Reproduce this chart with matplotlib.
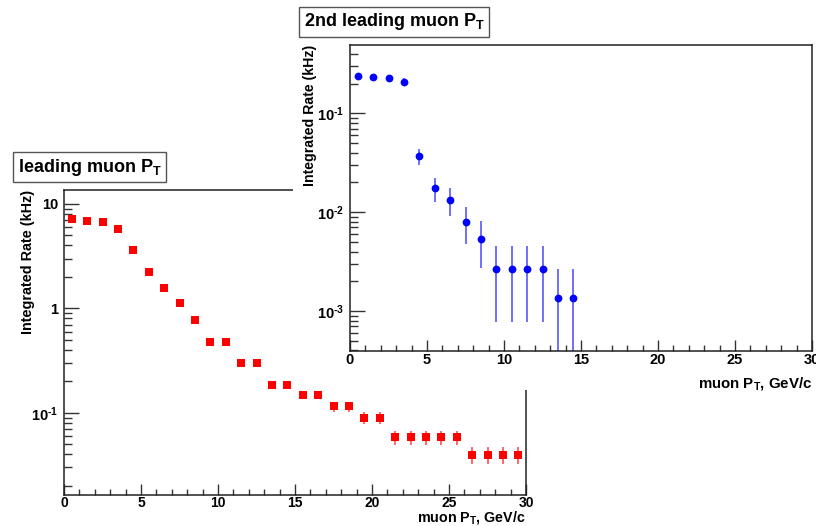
import matplotlib
matplotlib.use('Agg')
import matplotlib.pyplot as plt
from matplotlib.ticker import FixedLocator, MultipleLocator, FuncFormatter, NullFormatter

plt.rcParams['font.family'] = ['Liberation Sans', 'DejaVu Sans']
plt.rcParams['font.weight'] = 'bold'
plt.rcParams['mathtext.fontset'] = 'custom'
plt.rcParams['mathtext.rm'] = 'Liberation Sans:bold'
plt.rcParams['mathtext.default'] = 'rm'

# ****** leading muon pT (integrated rate, kHz) ******
lead_pt = [0.5, 1.5, 2.5, 3.5, 4.5, 5.5, 6.5, 7.5, 8.5, 9.5,
           10.5, 11.5, 12.5, 13.5, 14.5, 15.5, 16.5, 17.5, 18.5, 19.5,
           20.5, 21.5, 22.5, 23.5, 24.5, 25.5, 26.5, 27.5, 28.5, 29.5]
lead_rate = [7.18, 6.92, 6.67, 5.80, 3.65, 2.21, 1.55, 1.12, 0.78, 0.473,
             0.473, 0.302, 0.302, 0.183, 0.183, 0.149, 0.149, 0.115, 0.115, 0.0897,
             0.0897, 0.0581, 0.0581, 0.0581, 0.0581, 0.0581, 0.0393, 0.0393, 0.0393, 0.0393]
lead_err = [0.098, 0.0965, 0.0948, 0.0883, 0.070, 0.0545, 0.0457, 0.0388, 0.0324, 0.0252,
            0.0252, 0.0201, 0.0201, 0.0157, 0.0157, 0.0142, 0.0142, 0.0124, 0.0124, 0.011,
            0.011, 0.0089, 0.0089, 0.0089, 0.0089, 0.0089, 0.0073, 0.0073, 0.0073, 0.0073]

# ****** 2nd leading muon pT ******
sub_pt = [0.5, 1.5, 2.5, 3.5, 4.5, 5.5, 6.5, 7.5, 8.5, 9.5,
          10.5, 11.5, 12.5, 13.5, 14.5]
sub_rate = [0.240, 0.233, 0.228, 0.209, 0.0367, 0.01755, 0.01337, 0.00801, 0.00539, 0.00268,
            0.00268, 0.00268, 0.00268, 0.001346, 0.001346]
sub_err = [0.018, 0.0177, 0.0175, 0.0168, 0.0070, 0.00485, 0.00426, 0.0033, 0.00269, 0.0019,
           0.0019, 0.0019, 0.0019, 0.001346, 0.001346]

W, H = 816, 526


def box(x0, y0, x1, y1):
    # pixel box (top-left origin) -> figure fraction rect
    return [x0 / W, (H - y1) / H, (x1 - x0) / W, (y1 - y0) / H]


def style_axes(ax, labels):
    ax.set_yscale('log')
    ax.set_xlim(0, 30)
    ax.xaxis.set_major_locator(MultipleLocator(5))
    ax.xaxis.set_minor_locator(MultipleLocator(1))
    ax.yaxis.set_major_locator(FixedLocator(list(labels.keys())))
    ax.yaxis.set_minor_locator(FixedLocator(
        [m * 10.0 ** e for e in range(-5, 2) for m in range(2, 10)]))
    ax.yaxis.set_major_formatter(FuncFormatter(lambda v, p: labels.get(v, '')))
    ax.yaxis.set_minor_formatter(NullFormatter())
    ax.tick_params(which='both', direction='in', top=False, right=False,
                   labelsize=10.5, width=1, color='#333333')
    ax.tick_params(axis='y', which='major', length=11, pad=4)
    ax.tick_params(axis='y', which='minor', length=6)
    ax.tick_params(axis='x', which='major', length=8, pad=1.5)
    ax.tick_params(axis='x', which='minor', length=4)
    for lab in ax.get_xticklabels() + ax.get_yticklabels():
        lab.set_fontweight('bold')
    for sp in ax.spines.values():
        sp.set_linewidth(1.1)
        sp.set_color('#222222')


fig = plt.figure(figsize=(W / 100, H / 100), dpi=100)

# ****** main plot ******
ax1 = fig.add_axes(box(64, 190, 526, 495))
ax1.set_zorder(1)
ax1.errorbar(lead_pt, lead_rate, yerr=lead_err, fmt='none', ecolor='#ff4040',
             elinewidth=1.1, capsize=0)
ax1.plot(lead_pt, lead_rate, 's', color='#ff0000', ms=5.2, mew=0)
ax1.set_ylim(0.0163, 13.6)
style_axes(ax1, {0.1: r'$10^{\text{-}1}$', 1.0: '1', 10.0: '10'})
ax1.tick_params(axis='x', which='major', labelsize=10, pad=0.8)
ax1.text(1.0, -0.088, 'muon P$_{T}$, GeV/c', transform=ax1.transAxes,
         ha='right', va='baseline', fontsize=10.3, fontweight='bold')
ax1.text(-0.079, 1.0, 'Integrated Rate (kHz)', transform=ax1.transAxes,
         rotation=90, ha='center', va='top', fontsize=10.4, fontweight='bold')
fig.text(18 / W, 1 - 167 / H, 'leading muon P$_{T}$', fontsize=13, fontweight='bold',
         ha='left', va='center',
         bbox=dict(boxstyle='square,pad=0.25', facecolor='white', edgecolor='#555555', lw=1))

# ****** inset pad (white background covers main plot) ******
pad = fig.add_axes(box(293, 0, 816, 390))
pad.set_zorder(2)
pad.set_facecolor('white')
pad.set_xticks([])
pad.set_yticks([])
for sp in pad.spines.values():
    sp.set_visible(False)

ax2 = fig.add_axes(box(350, 45, 812, 351))
ax2.set_zorder(3)
ax2.errorbar(sub_pt, sub_rate, yerr=sub_err, fmt='none', ecolor='#4848ff',
             elinewidth=1.1, capsize=0)
ax2.plot(sub_pt, sub_rate, 'o', color='#0000ff', ms=5.6, mew=0)
ax2.set_ylim(3.94e-4, 0.491)
style_axes(ax2, {0.001: r'$10^{\text{-}3}$', 0.01: r'$10^{\text{-}2}$',
                 0.1: r'$10^{\text{-}1}$'})
ax2.text(1.0, -0.105, 'muon P$_{T}$, GeV/c', transform=ax2.transAxes,
         ha='right', va='center', fontsize=10.8, fontweight='bold')
ax2.text(-0.086, 1.0, 'Integrated Rate (kHz)', transform=ax2.transAxes,
         rotation=90, ha='center', va='top', fontsize=10.2, fontweight='bold')
fig.text(304 / W, 1 - 22 / H, '2nd leading muon P$_{T}$', fontsize=13, fontweight='bold',
         ha='left', va='center', zorder=5,
         bbox=dict(boxstyle='square,pad=0.25', facecolor='white', edgecolor='#555555', lw=1))

fig.savefig('out.png', dpi=100)
